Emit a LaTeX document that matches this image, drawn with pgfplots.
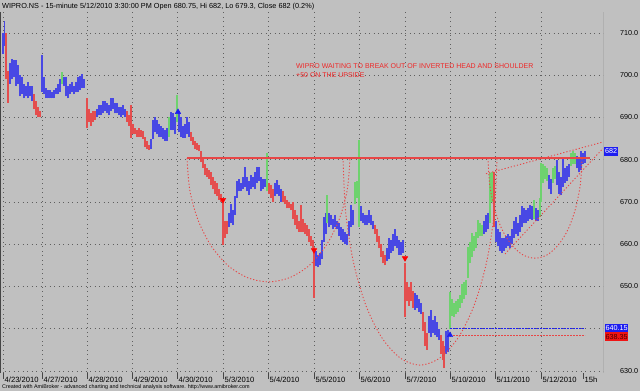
\documentclass[border=0pt]{standalone}
\usepackage{pgfplots}
\pgfplotsset{compat=1.18}
\usepackage{pgfplotstable}
\usepackage{fontspec}
\setmainfont{Liberation Sans}
\definecolor{bg}{RGB}{192,192,192}
\definecolor{barR}{RGB}{228,78,78}
\definecolor{barB}{RGB}{72,72,228}
\definecolor{barG}{RGB}{110,210,110}
\definecolor{gridc}{RGB}{95,95,95}
\definecolor{frame}{RGB}{70,70,70}
\definecolor{lineR}{RGB}{232,70,70}
\definecolor{txtR}{RGB}{238,40,40}
\definecolor{boxB}{RGB}{30,30,240}
\definecolor{boxR}{RGB}{240,20,20}

\pgfplotstableread{
x lo hi
6 699 710
8 693.5 701
34 692 695.5
36 690.5 694
38 690 692.5
40 690 691.5
87 687.5 694.5
89 689 692
91 688 691
93 689 691.5
95 689.5 691.5
127 689 691.5
129 688 690.5
131 685.2 693
133 686 688.5
135 686 687.5
137 685.5 687
139 685.5 687.5
141 685.5 687
143 685 686.8
145 683 685.5
147 682.5 684.5
149 682.3 683.5
191 684.5 686.5
193 683.5 685.5
195 682.5 684.5
197 682.3 684
199 682 683.5
201 679.5 682
203 678 680.5
205 676.5 679
207 676 678
209 675.5 677.5
211 674 677
213 673 676
215 672 675
217 671.5 674.5
219 670.5 673
221 670 672
223 659.8 671
225 661.5 665.5
227 662.5 665.5
269 672 674.5
271 671 674
273 670 673
283 670 672.5
285 669.5 671.5
287 668.5 670.5
289 668.5 670
291 668 669.5
293 666 670
295 664.5 668
297 663.5 667
299 663 665.5
301 663 669.3
303 663 666
305 662.5 665
307 662 664.5
309 660.5 663.5
311 659.5 662
313 659 661
314 647.3 659.4
375 662.5 664.5
377 660.5 663.5
379 659 662
381 657 660
383 655.5 658.5
385 655 657.5
405 642.8 655.6
407 646.5 651
409 645.5 650
411 646.5 651
413 645 649
423 639.5 644
425 636 641.5
427 635 639
441 634 638.5
443 632.6 637
444 630.7 636
494 664 677
}\redbars

\pgfplotstableread{
x lo hi
3 705 710
4.5 707 712.8
10 698 703
12 699 703.8
14 699.5 703.5
16 697.5 703.5
18 698 702.5
20 695 700
22 695.5 699.5
24 694.5 698
26 695 697.5
28 694.5 698.5
30 695 697.5
32 694 697.5
42 696 704.8
44 695.5 699.5
46 694.5 697
48 694.5 696.5
50 694.5 696.5
52 694.5 696
54 694.5 696.5
56 695.5 697
58 695.5 698
60 696 699
64 697.5 699.5
66 695 699.5
68 694.5 697.5
70 695.5 698
72 696 698.5
74 695.5 697.5
76 696 698.5
78 696 699.5
80 696.5 699.8
82 697 700.2
84 697 699
97 690 692
99 690.5 693
101 690.5 693
103 691 694
105 691.5 694
107 691 693.5
109 690.5 693
111 691.5 694.6
113 692 694.5
115 691 693.5
117 691 693.5
119 690.5 692.5
121 690 692.5
123 690.5 693
125 690 692
151 682.5 685
153 685 689.5
155 686.5 690
157 686 689.5
159 685.5 688.5
161 685.5 688
163 685 687.5
165 684.5 687
167 684.5 687.5
171 687 691.3
173 687 691
175 686 690
179 686.5 691.5
181 685.5 690
183 685.2 688
185 685.2 688.5
187 686 690
189 685.5 689
229 664 667.5
231 665 669.5
233 664.5 668
235 667 671.5
237 671 675
239 672.5 675.5
241 672.5 674.5
243 673 676
245 673.5 678.3
247 672.5 676
249 671.7 675
251 673 676.5
253 673.5 676
255 673 677
257 674.5 678.3
259 675 678.3
261 672.5 676
263 673 675.5
265 673.5 675.5
275 671.5 674.5
277 672 675.2
279 671.5 674
281 670 673
316 654.8 658.5
318 654.5 657.5
320 655 658
322 656.5 661
324 660.5 666.5
326 662.5 667.5
329 664 667.5
331 664.5 667
333 663.5 666
335 664 667
337 663.5 665.5
339 662 665
341 661 664
343 660.5 663.5
345 660 663
347 659.8 662.5
349 662 665.5
351 664 669.3
353 664.5 668
361 665.5 669
363 665 667.5
365 664.5 667
367 664.5 667
369 665 668
371 664.5 667
373 663.5 665.5
387 656 659
389 656.5 661.5
391 658 661
393 658.5 662.5
395 659.5 663.5
397 659 662
399 657.5 661
401 657.5 660.5
403 658 661
415 644.5 648.5
417 645 648
419 644 647
421 643.5 646
429 639 643
431 638 644.5
433 639 642
435 638.5 643
437 638 641.5
439 637.3 640
446 634 639.5
448 634.5 639.7
484 662.5 665.5
486 663 667
488 663.5 667.5
496 660.5 665.5
498 659.5 663.5
500 658.5 663
502 657.9 661.5
504 658.5 661.5
506 659 662
508 659.5 662.5
510 659 662
512 660 663.5
514 661.5 665.5
516 662.5 666.5
518 662 665
520 663 667
522 664 669
524 665 668.5
526 665 668
528 665.5 668.5
530 666 669.3
532 665.7 669
536 665.5 668.5
538 665.5 668
549 673 676.5
551 672 675.5
557 674 680
559 672 677
561 671.7 676
563 673.5 680.5
565 674.5 678
567 675 678.5
569 676 679
577 678 681
579 677 680.5
581 677.5 682
583 679 681.5
585 679.3 682
}\bluebars

\pgfplotstableread{
x lo hi
62 698 700.8
169 685.5 690
177 689 695.3
267 672.5 681.6
327 665 671.7
355 669.5 674.7
357 671 675
359 664.1 684.7
450 640 648.7
452 643 647
454 642.8 646
456 643.5 646.5
458 644 647
460 645 648
462 646 650.5
464 647 651
466 648 651.5
468 652 659.4
470 655.5 660.5
472 657 662.7
474 658.5 662
476 659 663
478 661.5 665.7
480 662 665
482 662 664.5
490 665 676.8
492 670 677.1
534 666 670.5
540 666.5 671
541 670 679.2
543 674.5 679
545 675.5 678.5
547 675 678
553 674.5 678
555 675.5 678.5
571 678.5 681.5
573 679 682
575 679 681.5
}\greenbars

\pgfplotsset{
  ohlc/.style={draw=none, mark=none, forget plot,
    error bars/.cd, y dir=plus, y explicit, error mark=none,
    error bar style={draw=#1, line width=1.45bp}},
  annot/.style={lineR, line width=0.9bp, dash pattern=on 1.2bp off 2bp, forget plot},
}

\begin{document}
\begin{tikzpicture}
\useasboundingbox (0,0) rectangle (640bp,391bp);
\fill[bg] (0,0) rectangle (640bp,391bp);
\begin{axis}[
  at={(0bp,18bp)}, anchor=south west,
  scale only axis, width=603bp, height=361bp,
  xmin=0, xmax=603, ymin=629.53, ymax=714.97,
  axis line style={draw=none},
  grid=major,
  grid style={gridc, line width=0.8bp, dash pattern=on 0.9bp off 3.6bp},
  tick align=outside, major tick length=6bp,
  xtick pos=bottom, ytick pos=right, yticklabel pos=right,
  xtick={3,42,87,132,177,223,268,314,359,405,450,495,541},
  xticklabels={4/23/2010,4/27/2010,4/28/2010,4/29/2010,4/30/2010,5/3/2010,5/4/2010,5/5/2010,5/6/2010,5/7/2010,5/10/2010,5/11/2010,5/12/2010},
  extra x ticks={583}, extra x tick labels={15h},
  extra x tick style={grid=none},
  xtick style={draw=frame, line width=0.8bp},
  ytick={630,650,660,670,680,690,700,710},
  extra y ticks={640}, extra y tick labels={},
  extra y tick style={grid=major},
  ytick style={draw=none},
  /pgf/number format/assume math mode=true,
  yticklabel style={/pgf/number format/fixed, /pgf/number format/fixed zerofill, /pgf/number format/precision=1,
     anchor=west, inner sep=0pt, xshift=11bp, font=\fontsize{7.2bp}{8bp}\selectfont},
  xticklabel style={anchor=north west, inner sep=0pt, xshift=1.5bp, yshift=2bp, font=\fontsize{7.6bp}{8bp}\selectfont},
]
% bars
\addplot[ohlc=barR] table[x=x, y=lo, y error plus expr=\thisrow{hi}-\thisrow{lo}] {\redbars};
\addplot[ohlc=barB] table[x=x, y=lo, y error plus expr=\thisrow{hi}-\thisrow{lo}] {\bluebars};
\addplot[ohlc=barG] table[x=x, y=lo, y error plus expr=\thisrow{hi}-\thisrow{lo}] {\greenbars};

% neckline
\addplot[lineR, line width=1.3bp, forget plot] coordinates {(187,680.4) (590,680.4)};
% cups
\addplot[annot, smooth] coordinates {(187,680.4) (189.8,672.8) (197.9,665.8) (210.9,659.7) (227.8,655.0) (247.4,652.1) (268.5,651.1) (289.6,652.1) (309.3,655.0) (326.1,659.7) (339.1,665.8) (347.2,672.8) (350,680.4)};
\addplot[annot, smooth] coordinates {(343,680.4) (345.6,667.7) (353.3,655.9) (365.6,645.7) (381.5,638.0) (400.1,633.1) (420,631.4) (439.9,633.1) (458.5,638.0) (474.4,645.7) (486.7,655.9) (494.4,667.7) (497,680.4)};
\addplot[annot, smooth] coordinates {(488,680.4) (489.6,674.3) (494.3,668.6) (501.8,663.6) (511.5,659.9) (522.8,657.5) (535,656.7) (547.2,657.5) (558.5,659.9) (568.2,663.6) (575.7,668.6) (580.4,674.3) (582,680.4)};
% wedge
\addplot[annot] coordinates {(486,676.7) (603,684.2)};
\addplot[annot] coordinates {(505,657.7) (603,682.7)};
% levels
\addplot[boxB, line width=0.8bp, dash pattern=on 1.5bp off 1.5bp, forget plot] coordinates {(450,640.15) (585,640.15)};
\addplot[lineR, line width=0.8bp, dash pattern=on 1.5bp off 1.5bp, forget plot] coordinates {(453,638.35) (585,638.35)};
% signals
\addplot[only marks, mark=triangle*, mark size=3.2bp, mark options={fill=boxB, draw=boxB}, forget plot] coordinates {(178,691.3) (450,638.5)};
\addplot[only marks, mark=triangle*, mark size=3.2bp, mark options={rotate=180, fill=red, draw=red}, forget plot] coordinates {(223,670.5) (314,658.6) (405,656.7)};

\node[anchor=west, inner sep=0pt, text=txtR, font=\fontsize{7bp}{8bp}\selectfont] at (axis cs:296,702.19) {WIPRO WAITING TO BREAK OUT OF INVERTED HEAD AND SHOULDER};
\node[anchor=west, inner sep=0pt, text=txtR, font=\fontsize{7bp}{8bp}\selectfont] at (axis cs:296,700.06) {+50 ON THE UPSIDE};

\draw[frame, line width=1bp] (rel axis cs:0,1) -- (rel axis cs:0,0) -- (rel axis cs:1,0) -- (rel axis cs:1,1);
\coordinate (c682) at (axis cs:603,682);
\coordinate (c640) at (axis cs:603,640.15);
\coordinate (c638) at (axis cs:603,638.35);
\end{axis}
\node[anchor=west, fill=boxB, text=white, inner sep=0.8bp, minimum height=8.5bp, font=\fontsize{7.2bp}{8bp}\selectfont] at ([xshift=1bp]c682) {682};
\node[anchor=west, fill=boxB, text=white, inner sep=0.8bp, minimum height=8.3bp, font=\fontsize{7.2bp}{8bp}\selectfont] at ([xshift=1.5bp]c640) {640.15};
\node[anchor=west, fill=boxR, text=black!70!red, inner sep=0.8bp, minimum height=8.3bp, font=\fontsize{7.2bp}{8bp}\selectfont] at ([xshift=1.5bp,yshift=-0.8bp]c638) {638.35};
\node[anchor=base west, inner sep=0pt, font=\fontsize{7.3bp}{8bp}\selectfont] at (2bp,382bp) {WIPRO.NS - 15-minute 5/12/2010 3:30:00 PM Open 680.75, Hi 682, Lo 679.3, Close 682 (0.2\%)};
\node[anchor=base west, inner sep=0pt, font=\fontsize{5.4bp}{6bp}\selectfont] at (2bp,2.5bp) {Created with AmiBroker - advanced charting and technical analysis software. http://www.amibroker.com};
\end{tikzpicture}
\end{document}
